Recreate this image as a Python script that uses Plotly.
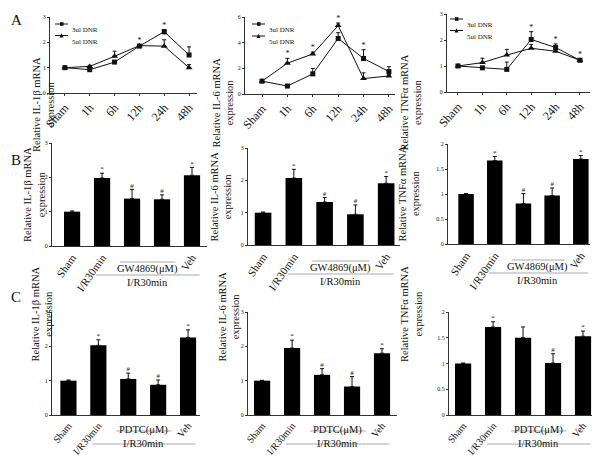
import plotly.graph_objects as go

# the page body adds an 8px margin, so the figure is drawn 8px smaller and all
# pixel positions below are given in page coordinates
PAGE_W, PAGE_H, OFF = 600, 456, 8
W, H = PAGE_W - OFF, PAGE_H - OFF
FONT = "Liberation Serif, Times New Roman, serif"

# ---- row A: time course after 3ul / 5ul DNR ----
TIME_POINTS = ["Sham", "1h", "6h", "12h", "24h", "48h"]
SERIES_NAMES = ["3ul DNR", "5ul DNR"]

IL1B_3UL = [1.00, 0.92, 1.22, 1.85, 2.42, 1.50]
IL1B_3UL_ERR = [0.03, 0.05, 0.06, 0.04, 0.08, 0.32]
IL1B_3UL_SIG = ["", "", "", "*", "*", ""]
IL1B_5UL = [1.00, 1.05, 1.45, 1.87, 1.85, 1.00]
IL1B_5UL_ERR = [0.03, 0.04, 0.20, 0.04, 0.25, 0.12]
IL1B_5UL_SIG = ["", "", "", "", "*", ""]

IL6_3UL = [1.00, 0.62, 1.57, 4.33, 2.77, 1.75]
IL6_3UL_ERR = [0.05, 0.05, 0.42, 0.45, 0.68, 0.38]
IL6_3UL_SIG = ["", "", "", "", "*", ""]
IL6_5UL = [1.00, 2.40, 3.12, 5.33, 1.20, 1.41]
IL6_5UL_ERR = [0.05, 0.38, 0.15, 0.20, 0.45, 0.10]
IL6_5UL_SIG = ["", "*", "*", "*", "", ""]

TNF_3UL = [1.00, 0.93, 0.87, 2.02, 1.71, 1.22]
TNF_3UL_ERR = [0.03, 0.05, 0.28, 0.30, 0.14, 0.05]
TNF_3UL_SIG = ["", "", "", "*", "*", "*"]
TNF_5UL = [1.00, 1.13, 1.42, 1.68, 1.57, 1.22]
TNF_5UL_ERR = [0.03, 0.17, 0.22, 0.15, 0.05, 0.05]
TNF_5UL_SIG = ["", "", "", "", "", ""]

# ---- row B: GW4869 ----
GW_GROUPS = ["Sham", "I/R30min", "10", "20", "Veh"]
GW_IL1B = [1.00, 1.98, 1.38, 1.36, 2.06]
GW_IL1B_ERR = [0.02, 0.14, 0.27, 0.13, 0.23]
GW_IL6 = [1.00, 2.07, 1.33, 0.95, 1.91]
GW_IL6_ERR = [0.02, 0.27, 0.14, 0.29, 0.21]
GW_TNF = [1.00, 1.67, 0.81, 0.97, 1.70]
GW_TNF_ERR = [0.01, 0.08, 0.20, 0.15, 0.07]
GW_SIG = ["", "*", "#", "#", "*"]

# ---- row C: PDTC ----
PDTC_GROUPS = ["Sham", "I/R30min", "25", "50", "Veh"]
PDTC_IL1B = [1.00, 2.03, 1.05, 0.88, 2.26]
PDTC_IL1B_ERR = [0.02, 0.16, 0.17, 0.14, 0.22]
PDTC_IL6 = [1.00, 1.95, 1.17, 0.83, 1.80]
PDTC_IL6_ERR = [0.01, 0.23, 0.18, 0.29, 0.13]
PDTC_TNF = [1.00, 1.71, 1.50, 1.01, 1.53]
PDTC_TNF_ERR = [0.01, 0.10, 0.21, 0.18, 0.10]
PDTC_IL_SIG = ["", "*", "#", "#", "*"]
PDTC_TNF_SIG = ["", "*", "", "#", "*"]

TITLE_IL1B = "Relative IL-1β mRNA<br>expression"
TITLE_IL6 = "Relative IL-6 mRNA<br>expression"
TITLE_TNF = "Relative TNFα mRNA<br>expression"


def fx(p):
    return (p - OFF) / W


def fy(p):
    return 1 - (p - OFF) / H


# layout of the nine panels, in page pixels: x0, x1, y bottom, y top, x range, y range, y ticks, title x
PANELS = [
    (50, 197, 93, 17, [-0.6, 5.32], [0, 3], [0, 1, 2, 3], 29),
    (245, 395, 94, 17, [-0.67, 5.24], [0, 6], [0, 2, 4, 6], 223),
    (447, 590, 92, 14, [-0.45, 5.41], [0, 3], [0, 1, 2, 3], 425),
    (52, 207, 246, 143, [-0.67, 4.5], [0, 3], [0, 1, 2, 3], 20),
    (248, 400, 245, 148, [-0.49, 4.45], [0, 3], [0, 1, 2, 3], 221),
    (448, 590, 244, 144, [-0.63, 4.32], [0, 2], [0, 0.5, 1, 1.5, 2], 423),
    (52, 200, 415, 312, [-0.55, 4.4], [0, 3], [0, 1, 2, 3], 27),
    (248, 397, 415, 312, [-0.47, 4.5], [0, 3], [0, 1, 2, 3], 229),
    (449, 592, 415, 312, [-0.47, 4.3], [0, 2], [0, 0.5, 1, 1.5, 2], 426),
]

# hand-drawn legends of row A: line start x, first row y, row spacing
LEGENDS = [(55, 24, 11.5), (252, 24, 12), (450, 19, 11.5)]

fig = go.Figure()


def err(arr):
    return dict(type="data", array=arr, arrayminus=[0] * len(arr), symmetric=False,
                color="#111", thickness=1, width=2)


def add_line_panel(i, s3, e3, g3, s5, e5, g5):
    ax = "" if i == 1 else str(i)
    for vals, errs, sig, name, sym, size in ((s3, e3, g3, SERIES_NAMES[0], "square", 5),
                                             (s5, e5, g5, SERIES_NAMES[1], "triangle-up", 6)):
        fig.add_trace(go.Scatter(x=TIME_POINTS, y=vals, name=name, mode="lines+markers",
                                 line=dict(color="#111", width=1),
                                 marker=dict(symbol=sym, size=size, color="#111"),
                                 error_y=err(errs), showlegend=False,
                                 xaxis="x" + ax, yaxis="y" + ax))
        fig.add_trace(go.Scatter(x=TIME_POINTS, y=[v + e for v, e in zip(vals, errs)],
                                 text=sig, mode="text", textposition="top center",
                                 textfont=dict(size=8, color="#111", family=FONT),
                                 showlegend=False, hoverinfo="skip", cliponaxis=False,
                                 xaxis="x" + ax, yaxis="y" + ax))


def add_bar_panel(i, groups, vals, errs, sig):
    ax = str(i)
    fig.add_trace(go.Bar(x=groups, y=vals, width=0.54, marker=dict(color="#000", line=dict(width=0)),
                         error_y=err(errs), showlegend=False,
                         xaxis="x" + ax, yaxis="y" + ax))
    fig.add_trace(go.Scatter(x=groups, y=[v + e for v, e in zip(vals, errs)],
                             text=sig, mode="text", textposition="top center",
                             textfont=dict(size=7, color="#111", family=FONT),
                             showlegend=False, hoverinfo="skip", cliponaxis=False,
                             xaxis="x" + ax, yaxis="y" + ax))


add_line_panel(1, IL1B_3UL, IL1B_3UL_ERR, IL1B_3UL_SIG, IL1B_5UL, IL1B_5UL_ERR, IL1B_5UL_SIG)
add_line_panel(2, IL6_3UL, IL6_3UL_ERR, IL6_3UL_SIG, IL6_5UL, IL6_5UL_ERR, IL6_5UL_SIG)
add_line_panel(3, TNF_3UL, TNF_3UL_ERR, TNF_3UL_SIG, TNF_5UL, TNF_5UL_ERR, TNF_5UL_SIG)
add_bar_panel(4, GW_GROUPS, GW_IL1B, GW_IL1B_ERR, GW_SIG)
add_bar_panel(5, GW_GROUPS, GW_IL6, GW_IL6_ERR, GW_SIG)
add_bar_panel(6, GW_GROUPS, GW_TNF, GW_TNF_ERR, GW_SIG)
add_bar_panel(7, PDTC_GROUPS, PDTC_IL1B, PDTC_IL1B_ERR, PDTC_IL_SIG)
add_bar_panel(8, PDTC_GROUPS, PDTC_IL6, PDTC_IL6_ERR, PDTC_IL_SIG)
add_bar_panel(9, PDTC_GROUPS, PDTC_TNF, PDTC_TNF_ERR, PDTC_TNF_SIG)

titles = [TITLE_IL1B, TITLE_IL6, TITLE_TNF] * 3
layout = {}
for i, (x0, x1, yb, yt, xr, yr, yt_vals, tx) in enumerate(PANELS, start=1):
    ax = "" if i == 1 else str(i)
    if i <= 3:
        groups = TIME_POINTS
        ticktext = TIME_POINTS
        angle, tsize = -48, 12
    else:
        groups = GW_GROUPS if i <= 6 else PDTC_GROUPS
        ticktext = [g if k in (0, 1, 4) else "" for k, g in enumerate(groups)]
        angle, tsize = (-55, 11) if i <= 6 else (-50, 10)
    layout["xaxis" + ax] = dict(domain=[fx(x0), fx(x1)], anchor="y" + ax, range=xr,
                                type="category", showline=True, linecolor="#333", linewidth=1,
                                ticks="outside" if i <= 3 else "", ticklen=2, tickcolor="#333",
                                tickvals=groups, ticktext=ticktext, tickangle=angle,
                                tickfont=dict(size=tsize, family=FONT, color="#111"),
                                showgrid=False, zeroline=False, fixedrange=True,
                                automargin=False)
    layout["yaxis" + ax] = dict(domain=[fy(yb), fy(yt)], anchor="x" + ax, range=yr,
                                showline=True, linecolor="#333", linewidth=1,
                                ticks="outside", ticklen=2, tickcolor="#333",
                                tickvals=yt_vals, tickfont=dict(size=6, family=FONT, color="#111"),
                                showgrid=False, zeroline=False, fixedrange=True,
                                automargin=False)
    fig.add_annotation(text=titles[i - 1], textangle=-90, xref="paper", yref="paper",
                       x=fx(tx), y=(fy(yb) + fy(yt)) / 2, showarrow=False,
                       font=dict(size=10.5, family=FONT, color="#111"))

fig.update_layout(**layout)

# legends of the time-course panels
for lx, ly, dy in LEGENDS:
    for k, name in enumerate(SERIES_NAMES):
        y = ly + k * dy
        fig.add_shape(type="line", xref="paper", yref="paper", x0=fx(lx), x1=fx(lx + 13),
                      y0=fy(y), y1=fy(y), line=dict(color="#111", width=1))
        if k == 0:
            fig.add_shape(type="rect", xref="paper", yref="paper", x0=fx(lx + 5), x1=fx(lx + 8.5),
                          y0=fy(y + 1.8), y1=fy(y - 1.8), line=dict(width=0), fillcolor="#111")
        else:
            fig.add_shape(type="path", xref="paper", yref="paper",
                          path=f"M {fx(lx + 4.5)} {fy(y + 2)} L {fx(lx + 8.5)} {fy(y + 2)} "
                               f"L {fx(lx + 6.5)} {fy(y - 2.2)} Z",
                          line=dict(width=0), fillcolor="#111")
        fig.add_annotation(text=name, x=fx(lx + 15), y=fy(y), xref="paper", yref="paper",
                           xanchor="left", showarrow=False,
                           font=dict(size=7, family=FONT, color="#111"))

# dose / treatment group labels under bar panels
for i in range(4, 10):
    x0, x1, yb, yt, xr, yr, yt_vals, tx = PANELS[i - 1]
    groups = GW_GROUPS if i <= 6 else PDTC_GROUPS
    drug = "GW4869(μM)" if i <= 6 else "PDTC(μM)"
    ax = str(i)
    base = yb  # x-axis pixel row
    for g in groups[2:4]:
        fig.add_annotation(text=g, x=g, xref="x" + ax, y=fy(base + 11), yref="paper",
                           showarrow=False, font=dict(size=11, family=FONT, color="#111"))
    fig.add_shape(type="line", xref="x" + ax, yref="paper", x0=1.6, x1=3.45,
                  y0=fy(base + 16), y1=fy(base + 16), line=dict(color="#aaa", width=1))
    fig.add_annotation(text=drug, x=2.5, xref="x" + ax, y=fy(base + 23), yref="paper",
                       showarrow=False, font=dict(size=10.5, family=FONT, color="#111"))
    fig.add_shape(type="line", xref="x" + ax, yref="paper", x0=0.8, x1=4.25,
                  y0=fy(base + 29), y1=fy(base + 29), line=dict(color="#aaa", width=1))
    fig.add_annotation(text="I/R30min", x=2.5, xref="x" + ax, y=fy(base + 36), yref="paper",
                       showarrow=False, font=dict(size=10.5, family=FONT, color="#111"))

for letter, ly in (("A", 10), ("B", 150), ("C", 297)):
    fig.add_annotation(text=letter, x=fx(9), y=fy(ly), xref="paper", yref="paper",
                       xanchor="left", showarrow=False,
                       font=dict(size=15, family=FONT, color="#111"))

fig.update_layout(
    width=W, height=H, margin=dict(l=0, r=0, t=0, b=0, autoexpand=False),
    paper_bgcolor="white", plot_bgcolor="white", bargap=0.4, showlegend=False,
    font=dict(family=FONT, color="#111"),
)

fig.write_html("out.html")
